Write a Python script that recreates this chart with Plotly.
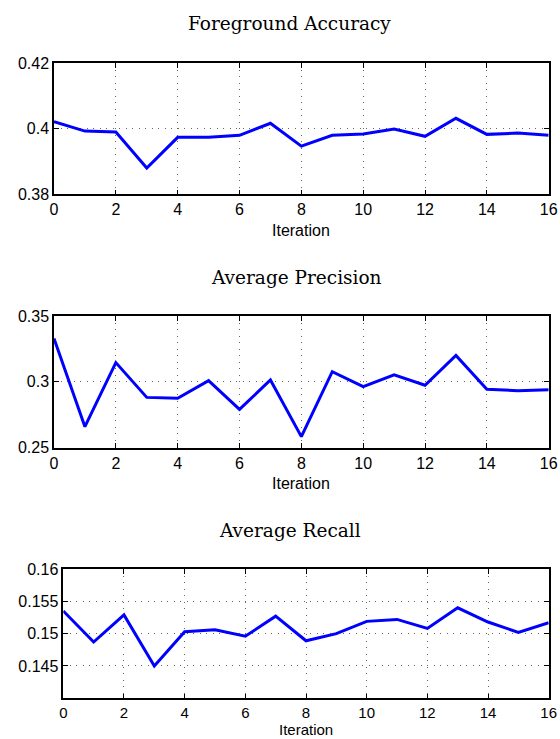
import plotly.graph_objects as go

iterations = list(range(17))
foreground_accuracy = [0.4022, 0.3993, 0.3990, 0.3880, 0.3974, 0.3974, 0.3980, 0.4017, 0.3947,
                       0.3980, 0.3984, 0.3999, 0.3977, 0.4032, 0.3983, 0.3987, 0.3980]
average_precision = [0.3330, 0.2660, 0.3146, 0.2882, 0.2875, 0.3009, 0.2791, 0.3014, 0.2584,
                     0.3077, 0.2963, 0.3054, 0.2974, 0.3201, 0.2943, 0.2933, 0.2940]
average_recall = [0.1535, 0.1487, 0.1529, 0.1450, 0.1503, 0.1506, 0.1496, 0.1527, 0.1489,
                  0.1500, 0.1519, 0.1522, 0.1508, 0.1540, 0.1518, 0.1502, 0.1517]

titles = ["Foreground Accuracy", "Average Precision", "Average Recall"]
x_label = "Iteration"
x_ticks = list(range(0, 17, 2))
y_ticks_1 = [0.38, 0.40, 0.42]
y_text_1 = ["0.38", "0.4", "0.42"]
y_ticks_2 = [0.25, 0.30, 0.35]
y_text_2 = ["0.25", "0.3", "0.35"]
y_ticks_3 = [0.145, 0.150, 0.155, 0.160]
y_text_3 = ["0.145", "0.15", "0.155", "0.16"]

W, H = 560, 739
# plot area boxes in pixels: (left, right, top, bottom)
boxes = [(54, 548.7, 63.3, 194.3), (54, 548.7, 316, 447.7), (63.3, 548.7, 569, 698.3)]
title_pos = [(289.5, 24), (296.5, 277), (290, 530)]
label_y = [230, 483, 739]
label_anchor = ["middle", "middle", "bottom"]

series = [foreground_accuracy, average_precision, average_recall]
yranges = [[0.38, 0.42], [0.25, 0.35], [0.14, 0.16]]
yticks = [(y_ticks_1, y_text_1), (y_ticks_2, y_text_2), (y_ticks_3, y_text_3)]

fig = go.Figure()
tick_font = dict(family="Liberation Sans, Arial, sans-serif", size=16, color="black")
small_font = dict(family="Liberation Sans, Arial, sans-serif", size=15, color="black")

for i in range(3):
    n = "" if i == 0 else str(i + 1)
    l, r, t, b = boxes[i]
    fnt = tick_font if i < 2 else small_font
    fig.add_trace(go.Scatter(x=iterations, y=series[i], mode="lines",
                             line=dict(color="#0000ff", width=3),
                             xaxis="x" + n, yaxis="y" + n, showlegend=False))
    common = dict(showline=True, linecolor="black", linewidth=1.5, mirror="ticks",
                  ticks="inside", ticklen=5, tickcolor="black", tickwidth=1,
                  showgrid=True, gridcolor="#666666", griddash="1px,5.5px", gridwidth=1,
                  zeroline=False, automargin=False)
    fig.layout["xaxis" + n] = dict(
        domain=[l / W, r / W], anchor="y" + n, range=[0, 16], tickfont=fnt,
        tickvals=x_ticks, ticktext=[str(v) for v in x_ticks], **common)
    fig.layout["yaxis" + n] = dict(
        domain=[1 - b / H, 1 - t / H], anchor="x" + n, range=yranges[i], tickfont=tick_font,
        tickvals=yticks[i][0], ticktext=yticks[i][1], **common)
    fig.add_annotation(text=titles[i], x=title_pos[i][0] / W, y=1 - title_pos[i][1] / H,
                       xref="paper", yref="paper", showarrow=False,
                       xanchor="center", yanchor="middle",
                       font=dict(family="DejaVu Serif, serif", size=18.5, color="black"))
    fig.add_annotation(text=x_label, x=(l + r) / 2 / W, y=1 - label_y[i] / H,
                       xref="paper", yref="paper", showarrow=False, borderpad=0,
                       xanchor="center", yanchor=label_anchor[i], font=fnt)

fig.update_layout(width=W, height=H, margin=dict(l=0, r=0, t=0, b=0),
                  plot_bgcolor="white", paper_bgcolor="white")
fig.write_html("out.html")
